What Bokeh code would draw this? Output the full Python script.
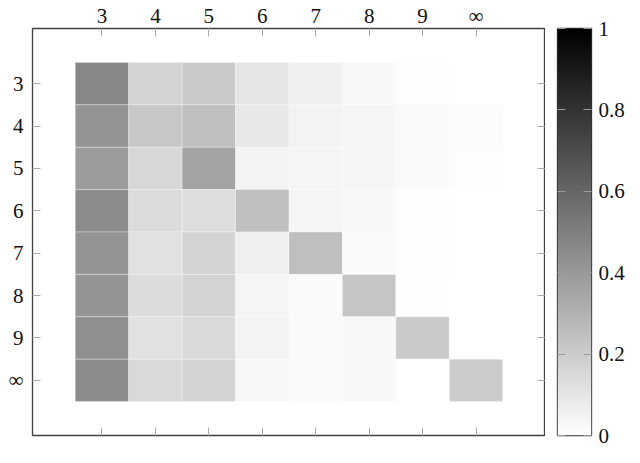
import numpy as np
from bokeh.plotting import figure
from bokeh.layouts import row
from bokeh.models import (LinearColorMapper, FixedTicker, LinearAxis,
                          Range1d, ColumnDataSource, CustomJSTickFormatter)
from bokeh.embed import file_html
from bokeh.resources import INLINE

# ---- data -------------------------------------------------------------
labels = ["3", "4", "5", "6", "7", "8", "9", "∞"]

row_3   = [0.47, 0.17, 0.21, 0.10, 0.06, 0.03, 0.01, 0.00]
row_4   = [0.42, 0.22, 0.25, 0.09, 0.05, 0.04, 0.02, 0.015]
row_5   = [0.39, 0.16, 0.36, 0.05, 0.04, 0.04, 0.02, 0.01]
row_6   = [0.45, 0.14, 0.13, 0.25, 0.04, 0.03, 0.01, 0.00]
row_7   = [0.42, 0.12, 0.17, 0.06, 0.25, 0.02, 0.01, 0.00]
row_8   = [0.42, 0.14, 0.17, 0.04, 0.02, 0.23, 0.005, 0.00]
row_9   = [0.44, 0.12, 0.15, 0.05, 0.02, 0.03, 0.21, 0.00]
row_inf = [0.45, 0.15, 0.17, 0.03, 0.02, 0.03, 0.00, 0.20]

rows = [row_3, row_4, row_5, row_6, row_7, row_8, row_9, row_inf]
cbar_low, cbar_high = 0, 1
cbar_ticks = [0, 0.2, 0.4, 0.6, 0.8, 1]

# ---- build source -----------------------------------------------------
xs, ys, vs = [], [], []
for r, rw in enumerate(rows):
    for c, v in enumerate(rw):
        xs.append(c)
        ys.append(r)
        vs.append(v)
src = ColumnDataSource(dict(x=xs, y=ys, v=vs))

palette = ["#%02x%02x%02x" % (g, g, g) for g in range(255, -1, -1)]
mapper = LinearColorMapper(palette=palette, low=cbar_low, high=cbar_high)

FONT = "Liberation Serif"
FS = "21px"
TICK_COL = "#ababab"
TEXT_COL = "#111111"
H = 447
BOTTOM = 12

idx = list(range(len(labels)))
overrides = {i: lab for i, lab in enumerate(labels)}


def style(ax, ticks, show_labels, standoff=3, overrides_=None, tick_col=TICK_COL):
    ax.ticker = FixedTicker(ticks=ticks)
    ax.axis_line_color = None
    ax.major_tick_in = 8
    ax.major_tick_out = 0
    ax.minor_tick_line_color = None
    ax.major_tick_line_color = tick_col
    ax.major_tick_line_width = 1
    ax.major_label_text_font = FONT
    if overrides_ is not None:
        ax.major_label_overrides = overrides_
    if show_labels:
        ax.major_label_text_font_size = FS
        ax.major_label_text_color = TEXT_COL
        ax.major_label_standoff = standoff
    else:
        # labels kept but invisible and tiny: the axis still draws its ticks
        ax.major_label_text_font_size = "1px"
        ax.major_label_text_alpha = 0
        ax.major_label_standoff = 1


# ---- main heat map ----------------------------------------------------
p = figure(width=545, height=H, output_backend="svg", toolbar_location=None,
           x_range=Range1d(-1.3, 8.3), y_range=Range1d(8.3, -1.3),
           x_axis_location="above",
           min_border_left=32, min_border_top=0, min_border_bottom=BOTTOM,
           min_border_right=0)

p.rect(x="x", y="y", width=1, height=1, source=src,
       fill_color={"field": "v", "transform": mapper},
       line_color="white", line_width=0.6, line_alpha=0.5)

p.grid.visible = False
p.outline_line_color = "#404040"
p.outline_line_width = 1.3

style(p.xaxis[0], idx, True, standoff=1, overrides_=overrides)
style(p.yaxis[0], idx, True, standoff=9, overrides_=overrides)

bottom = LinearAxis()
style(bottom, idx, False, overrides_=overrides)
p.add_layout(bottom, "below")

right = LinearAxis()
style(right, idx, False, overrides_=overrides)
p.add_layout(right, "right")

# ---- colour bar as its own small figure ------------------------------
grad = np.linspace(cbar_low, cbar_high, 256).reshape(256, 1)

cb = figure(frame_width=34, height=H, output_backend="svg", toolbar_location=None,
            x_range=Range1d(0, 1), y_range=Range1d(cbar_low, cbar_high),
            x_axis_location="above", y_axis_location="right",
            min_border_left=12, min_border_top=0, min_border_bottom=BOTTOM,
            min_border_right=0)
cb.image(image=[grad], x=0, y=cbar_low, dw=1, dh=cbar_high - cbar_low,
         color_mapper=mapper)
cb.grid.visible = False
cb.outline_line_color = "#303030"
cb.outline_line_width = 1.3

# top axis: invisible label so the panel height equals the heat map's
top = cb.xaxis[0]
style(top, [0.5], True, standoff=1, overrides_={0.5: "3"})
top.major_label_text_alpha = 0
top.major_tick_line_color = None

cbfmt = CustomJSTickFormatter(code="return (Math.round(tick*10)/10).toString();")
style(cb.yaxis[0], cbar_ticks, True, standoff=7, tick_col="#9a9a9a")
cb.yaxis[0].formatter = cbfmt

cb_left = LinearAxis()
style(cb_left, cbar_ticks, False, tick_col="#9a9a9a")
cb_left.formatter = cbfmt
cb.add_layout(cb_left, "left")

cb_bottom = LinearAxis()
style(cb_bottom, [0.5], False, overrides_={0.5: "3"})
cb_bottom.major_tick_line_color = None
cb.add_layout(cb_bottom, "below")

layout = row(p, cb)
open("out.html", "w").write(file_html(layout, INLINE))
